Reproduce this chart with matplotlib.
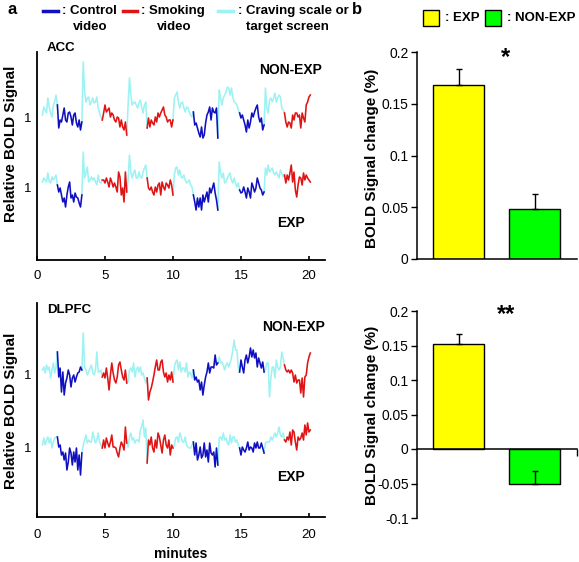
import numpy as np
import matplotlib
matplotlib.use('Agg')
import matplotlib.pyplot as plt
from matplotlib.patches import Rectangle
from matplotlib.lines import Line2D

plt.rcParams['font.family'] = ['Liberation Sans', 'DejaVu Sans']
plt.rcParams['axes.unicode_minus'] = False

W, H = 579, 562

# ---- time series (percent change around 1), sampled every 0.1 min from 0.4 min ----
t0, dt = 0.4, 0.1

seg_start = [0.4, 1.5, 3.3, 4.8, 6.6, 8.1, 10.0, 11.5, 13.3, 14.9, 16.7, 18.2]
seg_end = [1.5, 3.3, 4.8, 6.6, 8.1, 10.0, 11.5, 13.3, 14.9, 16.7, 18.2, 20.1]
seg_cond = ['craving', 'control', 'craving', 'smoking', 'craving', 'smoking',
            'craving', 'control', 'craving', 'control', 'craving', 'smoking']

acc_nonexp = [
    0.2, 1.0, 0.7, 0.4, 1.9, 1.0,
    0.4, 0.0, 1.2, 1.5, 2.2, 1.2, -1.1, -0.3, -0.5, 0.2,
    0.9, -0.3, -0.5, 0.4, 0.5, 0.0, -0.8, 0.2, 0.4, -0.6,
    -1.0, -0.3, -1.3, -0.5, 5.5, 2.5, 1.5, 1.9, 2.0, 1.2,
    1.5, 1.9, 1.4, 1.5, 2.0, 0.9, 0.4, 0.0, -0.3, 0.4,
    1.2, 0.5, 0.7, 0.9, 0.0, 0.4, 0.2, -0.3, -0.5, 0.0,
    -0.1, -1.0, -0.3, -1.0, -1.3, -0.5, -1.8, 1.2, 3.9, 2.2,
    1.2, 1.4, 1.5, 1.2, 0.9, 1.4, 1.7, 1.0, 0.4, 1.2,
    1.5, -1.1, -0.1, -1.0, -0.3, -0.6, -0.8, 0.0, -0.5, 0.4,
    0.0, 0.4, 0.7, 1.0, 0.2, 0.0, -0.5, -0.3, -0.3, -1.0,
    -0.3, 1.9, 2.2, 2.5, 1.5, 0.9, 1.4, 1.5, 0.9, 0.5,
    1.0, 0.9, 0.5, 0.2, 0.0, 0.5, -0.8, -0.6, -1.1, -1.6,
    -2.0, -1.0, -2.1, -1.8, -0.6, 0.2, 0.5, 1.0, -0.3, 0.9,
    0.5, 0.4, 0.9, -2.1, 2.7, 1.9, 1.2, 1.9, 2.2, 2.5,
    3.0, 2.9, 2.2, 2.9, 2.0, 1.5, 1.4, 1.2, 0.7, 0.4,
    -0.1, 0.2, -0.3, -0.8, -1.5, -0.3, -1.1, -0.5, 0.4, 0.0,
    0.5, 0.9, 1.2, 0.0, -0.5, -0.1, -1.3, -0.8, 2.9, 0.9,
    0.4, 1.7, 1.9, 1.5, 1.9, 2.4, 1.5, 1.9, 2.2, 2.0,
    0.9, 0.7, 0.4, -0.5, -1.0, -0.5, -0.6, -1.1, 0.2, -0.3,
    0.4, 0.4, 0.0, 0.2, -1.1, 0.4, -0.1, -0.5, 1.2, 1.5,
    2.0, 2.2,
]
acc_exp = [
    0.5, 0.9, 0.7, 0.5, 1.4, 0.5,
    0.4, 1.0, 0.7, 0.9, 1.2, 0.2, -0.5, -0.1, -0.8, -1.5,
    -1.1, -2.0, -0.8, 0.0, 0.5, -1.1, -0.8, -1.5, -0.6, -1.0,
    -1.1, -1.6, -2.0, -0.8, 3.5, 0.9, 1.4, 2.0, 0.5, 0.7,
    1.0, 0.7, 0.9, 0.5, 0.2, 1.2, 0.5, 0.4, 0.7, 0.7,
    0.4, 0.9, 0.5, 0.0, 0.9, 0.5, 0.0, 0.4, 0.0, -0.5,
    1.5, 1.0, -0.8, -0.1, -1.5, 1.5, -0.5, 0.7, 3.2, 1.5,
    0.9, 1.4, 1.7, 0.9, 0.9, 1.5, 1.0, 0.9, 1.5, 1.9,
    2.2, 0.9, -0.1, -0.3, 0.0, -0.5, -0.8, 0.0, -0.5, 0.2,
    0.4, -0.8, 0.5, 0.0, -0.3, 0.4, 0.2, -0.1, 0.7, 0.2,
    -0.8, 1.2, 1.9, 2.0, 1.2, 1.7, 1.0, 0.9, 1.2, 0.7,
    0.4, 0.5, 0.7, 0.2, 0.0, -0.8, -1.5, -2.3, -1.1, -2.0,
    -1.1, -2.3, -0.8, -1.5, -1.0, -0.5, -1.5, -0.1, -0.6, -0.1,
    0.4, -0.6, -1.3, -2.3, 2.5, 1.4, 0.9, 1.4, 0.4, 0.5,
    0.9, 1.2, 1.4, 0.7, 0.4, 0.9, 0.4, 0.0, 0.4, -0.3,
    -0.6, -0.5, 0.0, -0.5, -1.1, -0.1, -0.5, -1.1, 0.4, 0.0,
    -0.5, -0.1, 0.9, 0.4, -0.1, -0.3, -0.8, -0.5, 1.9, 1.2,
    2.2, 1.5, 1.7, 1.9, 1.4, 1.2, 1.5, 1.2, 0.9, 1.7,
    1.4, 1.0, 1.2, 0.4, 1.2, 0.7, 1.4, 2.2, 0.5, 1.5,
    -0.3, -1.0, 0.2, 1.0, 0.9, 0.2, 1.4, 0.7, 1.2, 0.9,
    0.7, 0.5,
]
dlpfc_nonexp = [
    0.4, 0.7, 0.1, 0.9, 0.4, 0.7,
    -0.4, 0.4, 1.1, 0.1, 0.7, 2.2, -0.3, 0.6, -1.8, 0.2,
    -2.1, -0.9, -0.4, 0.4, -0.1, -1.3, -0.4, -0.1, -0.8, -0.3,
    0.1, 0.2, 0.7, 0.4, 4.1, 0.7, 0.4, -0.1, 0.2, 0.6,
    0.9, 0.1, -0.1, 0.4, 2.2, 0.2, 0.2, 0.4, -0.3, 0.1,
    -0.4, 0.6, -0.4, -1.6, -0.1, 1.1, 0.1, -0.6, -0.9, -0.3,
    0.9, 1.2, 0.4, -0.3, -0.6, 0.4, -0.9, -0.8, 0.4, 0.6,
    0.2, 1.1, -0.3, 0.4, 0.7, 0.2, 0.7, -0.1, 0.1, -0.4,
    -0.9, -0.4, -2.6, -1.8, -1.4, -0.8, -0.1, 0.7, 1.4, 0.4,
    0.4, 1.2, 1.4, 0.2, -0.3, 0.1, -0.8, -0.1, -0.6, 0.2,
    -0.8, 0.7, 1.2, 1.4, 0.4, 1.2, 0.2, 0.6, 0.6, 0.2,
    1.1, -0.3, 0.2, 0.1, -0.4, 0.4, -0.6, -0.3, -0.8, -0.6,
    -1.6, -0.8, -2.1, -1.1, -0.3, 0.2, 1.1, 0.1, 0.7, 0.7,
    0.6, 1.9, 0.9, 1.1, 1.7, 1.1, 1.2, 0.9, 0.4, 0.9,
    1.1, 0.7, 1.1, 1.6, 2.4, 3.4, 2.4, 2.4, 0.7, 0.2,
    1.4, 0.7, 0.1, 1.4, 1.9, 1.1, 1.7, 2.6, 1.7, 2.4,
    1.6, 2.1, 0.7, 1.6, 1.1, 0.6, 1.2, 0.2, 0.4, 1.1,
    1.1, -2.3, -0.4, 0.7, 0.7, -0.4, 1.4, 0.7, 0.4, 0.7,
    2.2, 1.6, 0.9, 0.4, 0.2, 0.4, 0.1, 0.4, 0.1, -0.8,
    -0.1, -0.9, -0.6, -0.6, -1.9, -0.4, -2.3, -0.3, -0.1, 1.1,
    1.7, 2.1,
]
dlpfc_exp = [
    0.2, 0.9, 0.2, 0.7, 1.0, 0.4,
    0.9, -0.1, 0.5, 0.9, 1.0, 1.0, 0.0, 0.2, -0.8, -0.5,
    -1.3, -0.6, -2.3, -1.5, -0.1, -0.6, -1.8, -0.5, -1.5, -0.1,
    -2.3, -0.8, -2.8, -0.6, 0.2, 0.7, 1.2, 0.4, 0.7, 0.5,
    0.5, 1.5, 0.9, 0.4, 0.7, 1.4, 0.5, 0.2, -0.1, 0.7,
    -0.1, 0.9, 0.4, 0.0, 0.5, 1.2, 0.0, 0.0, -0.1, -0.6,
    -1.0, -0.1, 0.5, 0.2, -0.3, 2.0, 0.4, 0.0, 1.0, 1.4,
    0.7, 0.9, 0.4, 0.7, 0.7, 0.5, 1.7, 2.0, 2.7, 1.0,
    1.9, -1.6, 0.7, 0.2, 1.0, -0.1, -0.5, 0.7, -0.1, 1.4,
    1.0, 0.2, -0.6, 0.7, 1.2, 0.2, -0.1, 0.7, -0.8, 0.2,
    -0.1, 0.2, 0.9, 1.0, 0.5, 1.4, 1.0, 0.5, 0.5, 1.0,
    0.2, 0.0, -0.1, -0.1, 0.2, 0.5, -0.8, 0.4, -1.3, -0.8,
    0.0, -1.1, -0.8, 0.4, -1.0, -0.3, -1.5, 0.4, -0.6, -0.8,
    -0.5, -2.0, -0.1, -1.8, 0.9, 1.0, 0.7, 1.4, 0.7, 0.9,
    0.4, 0.2, 1.2, 0.4, 1.0, 1.0, 0.5, 0.7, 0.2, -0.1,
    -0.8, 0.0, -0.3, -0.5, -0.1, 0.5, -0.3, 0.0, -0.1, -0.5,
    0.4, -0.1, 0.5, -0.1, -0.1, 0.4, -0.1, -0.6, 0.4, 0.5,
    0.5, 0.5, 1.0, 0.7, 1.0, 1.4, 1.0, 1.4, 2.0, 1.2,
    1.0, 1.4, 0.7, 0.5, 1.0, 0.7, 1.5, 0.2, 1.7, 1.5,
    0.5, -0.3, 1.0, 0.7, 0.9, 1.4, 0.7, 2.2, 1.2, 2.4,
    1.5, 1.7,
]

# ---- bar data (BOLD signal change, %) ----
groups = ['EXP', 'NON-EXP']
acc_bar = [0.168, 0.048]
acc_err = [0.016, 0.015]
dlpfc_bar = [0.152, -0.051]
dlpfc_err = [0.014, 0.019]

trace_colors = {'control': '#1010C0', 'smoking': '#E01414', 'craving': '#9EF2F2'}
bar_colors = ['#FFFF00', '#00FF00']


def px_rect(x0, y0, x1, y1):
    return [x0 / W, 1 - y1 / H, (x1 - x0) / W, (y1 - y0) / H]


def fx(x):
    return x / W


def fy(y):
    return 1 - y / H


def draw_traces(ax, nonexp, exp, shift, ylim, region, lab_pos, ylab_y):
    t = t0 + dt * np.arange(len(nonexp))
    for vals, off in [(nonexp, shift), (exp, 0.0)]:
        y = 1 + np.array(vals) / 100.0 + off
        for s, e, c in sorted(zip(seg_start, seg_end, seg_cond), key=lambda z: z[2] != 'craving'):
            i0 = int(round((s - t0) / dt))
            i1 = int(round((e - t0) / dt))
            ax.plot(t[i0:i1 + 1], y[i0:i1 + 1], color=trace_colors[c], lw=1.15)
    ax.set_xlim(0, 21.18)
    ax.set_ylim(*ylim)
    for sp in ['top', 'right']:
        ax.spines[sp].set_visible(False)
    for sp in ['left', 'bottom']:
        ax.spines[sp].set_linewidth(1.3)
    ax.set_xticks([0, 5, 10, 15, 20])
    ax.set_yticks([1.0, 1.0 + shift])
    ax.set_yticklabels(['1', '1'])
    ax.tick_params(axis='x', direction='in', length=3, width=1.2, labelsize=9.5, pad=7)
    ax.tick_params(axis='y', length=0, labelsize=9.5, pad=4)
    ax.set_ylabel('Relative BOLD Signal', fontsize=11, fontweight='bold')
    # anchor is the right edge of the rotated label
    ax.yaxis.set_label_coords(-0.066, ylab_y)
    ax.text(lab_pos[0], lab_pos[1], region, transform=ax.transAxes, fontsize=9.5,
            fontweight='bold', va='center')


def draw_bars(ax, vals, errs, ylim, yticks, star, star_y):
    x = np.arange(len(groups))
    ax.bar(x, vals, width=0.67, color=bar_colors, edgecolor='black', linewidth=1.0, zorder=2)
    for xi, v, e in zip(x, vals, errs):
        ax.errorbar([xi], [v], yerr=[[0], [e]], fmt='none', ecolor='black',
                    elinewidth=1.0, capsize=2.5, capthick=1.0, zorder=3)
    ax.set_xlim(-0.546, 1.559)
    ax.set_ylim(*ylim)
    ax.set_yticks(yticks)
    ax.set_yticklabels([f'{v:g}' for v in yticks])
    for sp in ['top', 'right']:
        ax.spines[sp].set_visible(False)
    ax.spines['left'].set_linewidth(1.1)
    ax.spines['bottom'].set_linewidth(1.1)
    ax.spines['bottom'].set_position(('data', 0))
    ax.tick_params(axis='y', direction='out', length=4, width=1.0, labelsize=10, pad=2)
    ax.set_ylabel('BOLD Signal change (%)', fontsize=11, fontweight='bold')
    ax.text(0.555, star_y, star, transform=ax.transAxes, fontsize=17,
            fontweight='bold', ha='center', va='center')


fig = plt.figure(figsize=(W / 100, H / 100), dpi=100)

# panel a
ax1 = fig.add_axes(px_rect(37, 52, 325, 260))
draw_traces(ax1, acc_nonexp, acc_exp, 0.07, (0.927, 1.135), 'ACC', (0.035, 1.02), 0.558)
ax1.tick_params(axis='x', pad=7)
ax1.text(0.771, 0.913, 'NON-EXP', transform=ax1.transAxes, fontsize=10, fontweight='bold', va='center')
ax1.text(0.833, 0.178, 'EXP', transform=ax1.transAxes, fontsize=10, fontweight='bold', va='center')

ax2 = fig.add_axes(px_rect(37, 303, 325, 517))
draw_traces(ax2, dlpfc_nonexp, dlpfc_exp, 0.073, (0.930, 1.144), 'DLPFC', (0.035, 0.967), 0.495)
ax2.tick_params(axis='x', pad=9)
ax2.set_xlabel('minutes', fontsize=10, fontweight='bold', labelpad=4)
ax2.text(0.781, 0.888, 'NON-EXP', transform=ax2.transAxes, fontsize=10, fontweight='bold', va='center')
ax2.text(0.833, 0.187, 'EXP', transform=ax2.transAxes, fontsize=10, fontweight='bold', va='center')

# panel b
ax3 = fig.add_axes(px_rect(417, 52, 577, 259))
draw_bars(ax3, acc_bar, acc_err, (0, 0.2), [0, 0.05, 0.1, 0.15, 0.2], '*', 0.975)
ax3.set_xticks([])
ax3.yaxis.set_label_coords(-0.238, 0.488)

ax4 = fig.add_axes(px_rect(417, 311, 577, 518))
draw_bars(ax4, dlpfc_bar, dlpfc_err, (-0.1, 0.2), [-0.1, -0.05, 0, 0.05, 0.1, 0.15, 0.2], '**', 0.985)
ax4.set_xticks([1.559])
ax4.set_xticklabels([''])
ax4.tick_params(axis='x', direction='out', length=5, width=1.0)
ax4.yaxis.set_label_coords(-0.238, 0.498)

# panel letters
fig.text(fx(7), fy(9), 'a', fontsize=12, fontweight='bold', va='center')
fig.text(fx(352), fy(10), 'b', fontsize=12, fontweight='bold', va='center')

# legend of panel a
leg_lines = [(43, 58, 'control'), (123, 137, 'smoking'), (218, 233, 'craving')]
for x0, x1, c in leg_lines:
    fig.add_artist(Line2D([fx(x0), fx(x1)], [fy(11), fy(11)], color=trace_colors[c], lw=2.5))
fig.text(fx(62), fy(11), ': Control', fontsize=9.5, fontweight='bold', va='center')
fig.text(fx(90), fy(27), 'video', fontsize=9.5, fontweight='bold', va='center', ha='center')
fig.text(fx(141), fy(11), ': Smoking', fontsize=9.5, fontweight='bold', va='center')
fig.text(fx(174), fy(27), 'video', fontsize=9.5, fontweight='bold', va='center', ha='center')
fig.text(fx(238), fy(11), ': Craving scale or', fontsize=9.5, fontweight='bold', va='center')
fig.text(fx(287), fy(27), 'target screen', fontsize=9.5, fontweight='bold', va='center', ha='center')

# legend of panel b
for (x0, c, lab) in [(423, bar_colors[0], ': EXP'), (485, bar_colors[1], ': NON-EXP')]:
    fig.add_artist(Rectangle((fx(x0), fy(26)), 16 / W, 16 / H, facecolor=c,
                             edgecolor='black', lw=1.0, transform=fig.transFigure))
    fig.text(fx(x0 + 22), fy(18), lab, fontsize=9.5, fontweight='bold', va='center')

fig.savefig('out.png', dpi=100)
